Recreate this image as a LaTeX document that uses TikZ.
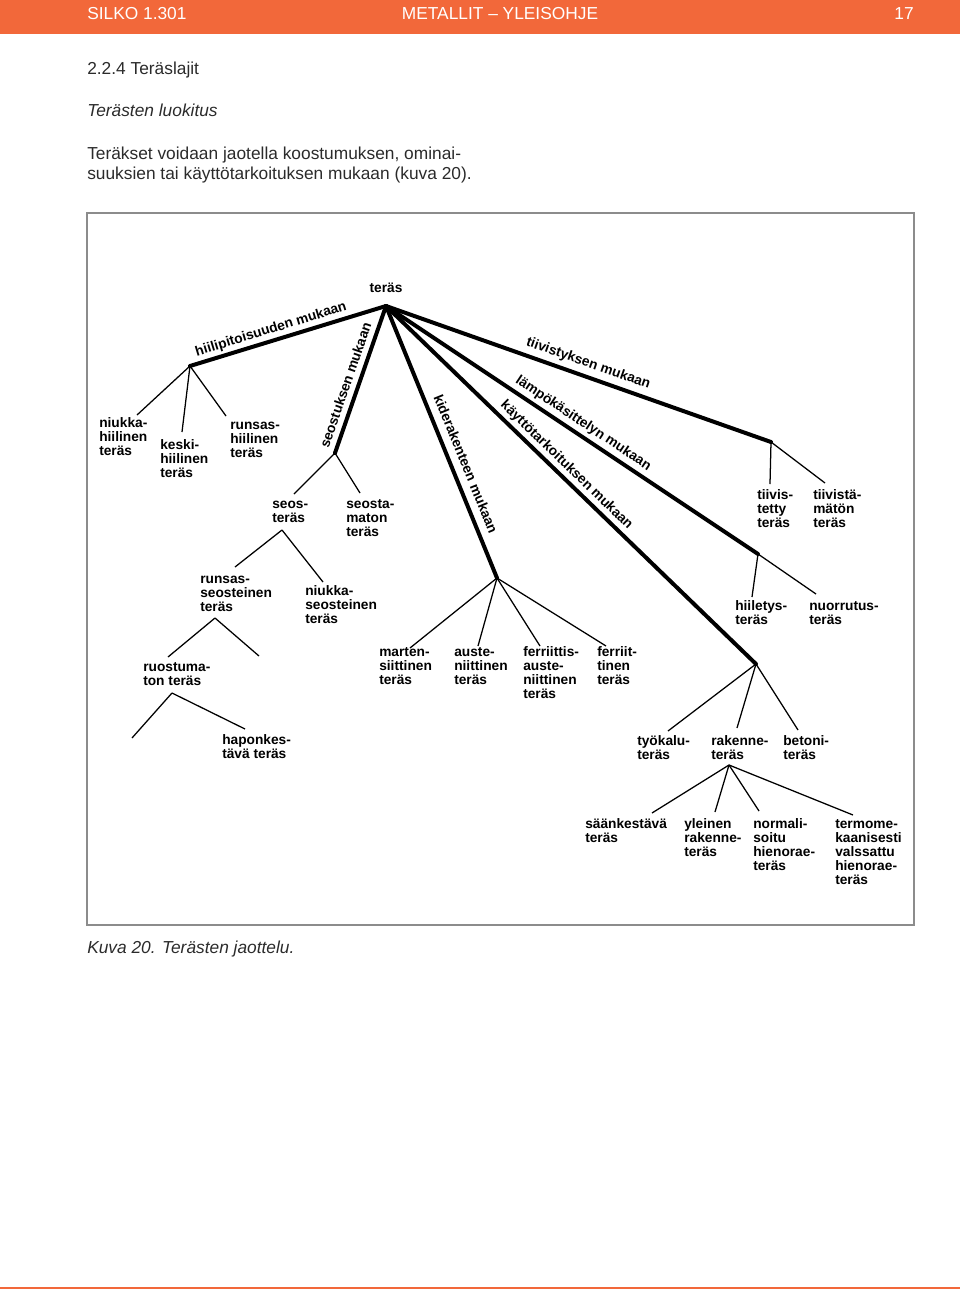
\documentclass[tikz,border=0pt]{standalone}
\usepackage{fontspec}
\setmainfont{Liberation Sans}
\definecolor{hdr}{HTML}{F2683A}
\definecolor{bodytxt}{HTML}{2B2B2B}
\definecolor{framegray}{HTML}{8C8C8C}
\newcommand\lblstrut{\rule{0pt}{0.75em}}
\begin{document}
\begin{tikzpicture}[x=0.75pt,y=-0.75pt,
  thickbr/.style={line width=3pt, line cap=round},
  thinbr/.style={line width=0.95pt},
  lbl/.style={font=\bfseries\fontsize{10.3}{10.5}\selectfont, align=left, anchor=north west, inner sep=0pt},
  brlbl/.style={sloped, above, font=\bfseries\fontsize{10.3}{10.5}\selectfont, text height=0.73em, text depth=0.21em, inner sep=2pt},
  bodyt/.style={font=\fontsize{13}{15}\selectfont, text=bodytxt, anchor=base west, inner sep=0pt},
  hdrt/.style={font=\fontsize{13}{15}\selectfont, text=white, anchor=base, inner sep=0pt},
]
\useasboundingbox (0,0) rectangle (960,1289);
% header
\fill[hdr] (0,0) rectangle (960,34);
\node[hdrt, anchor=base west] (h1) at (87,19) {SILKO 1.301};
\node[hdrt] (h2) at (500,19) {METALLIT – YLEISOHJE};
\node[hdrt, anchor=base east] (h3) at (914,19) {17};
\fill[hdr] (0,1287) rectangle (960,1289);
% body text
\node[bodyt] (t1) at (87,74) {2.2.4 Teräslajit};
\node[bodyt, font=\itshape\fontsize{13}{15}\selectfont] (t2) at (87,116) {Terästen luokitus};
\node[bodyt] (t3) at (87,159) {Teräkset voidaan jaotella koostumuksen, ominai-};
\node[bodyt] (t4) at (87,179) {suuksien tai käyttötarkoituksen mukaan (kuva 20).};
\node[bodyt, font=\itshape\fontsize{13}{15}\selectfont] (t5) at (87,953) {Kuva 20. Terästen jaottelu.};
% frame
\draw[framegray, line width=0.8pt] (87,213) rectangle (914,925);
% tree points
\coordinate (R) at (386,306);
\coordinate (H) at (190,366);
\coordinate (h1e) at (137,415); \coordinate (h2e) at (182,432); \coordinate (h3e) at (226,416);
\coordinate (S) at (335,453);
\coordinate (s1e) at (294,494); \coordinate (s2e) at (360,493);
\coordinate (SO) at (282,530);
\coordinate (so1e) at (235,567); \coordinate (so2e) at (323,582);
\coordinate (RS) at (215,618);
\coordinate (rs1e) at (168,657); \coordinate (rs2e) at (259,656);
\coordinate (RU) at (172,693);
\coordinate (ru1e) at (132,738); \coordinate (ru2e) at (245,729);
\coordinate (K) at (497,578);
\coordinate (k1e) at (410,648); \coordinate (k2e) at (478,646); \coordinate (k3e) at (540,646); \coordinate (k4e) at (606,646);
\coordinate (T) at (771,442);
\coordinate (t1e) at (770,484); \coordinate (t2e) at (825,483);
\coordinate (L) at (758,554);
\coordinate (l1e) at (752,597); \coordinate (l2e) at (816,594);
\coordinate (U) at (756,664);
\coordinate (u1e) at (668,731); \coordinate (u2e) at (737,728); \coordinate (u3e) at (798,730);
\coordinate (RK) at (729,765);
\coordinate (rk1e) at (652,813); \coordinate (rk2e) at (715,812); \coordinate (rk3e) at (759,811); \coordinate (rk4e) at (853,815);
% main branches
\draw[thickbr] (R) -- node[brlbl, pos=0.57] (bh) {hiilipitoisuuden mukaan} (H);
\draw[thickbr] (R) -- node[brlbl, pos=0.566] (bs) {seostuksen mukaan} (S);
\draw[thickbr] (R) -- node[brlbl, pos=0.6, inner sep=3.5pt] (bk) {kiderakenteen mukaan} (K);
\draw[thickbr] (R) -- node[brlbl, pos=0.514, inner sep=3.5pt] (bt) {tiivistyksen mukaan} (T);
\draw[thickbr] (R) -- node[brlbl, pos=0.513, inner sep=2.5pt] (bl) {lämpökäsittelyn mukaan} (L);
\draw[thickbr] (R) -- node[brlbl, pos=0.467] (bu) {käyttötarkoituksen mukaan} (U);
\node[font=\bfseries\fontsize{10.3}{10.5}\selectfont, anchor=base, inner sep=0pt] (root) at (386,292) {teräs};
% thin branches
\draw[thinbr] (H) -- (h1e); \draw[thinbr] (H) -- (h2e); \draw[thinbr] (H) -- (h3e);
\draw[thinbr] (S) -- (s1e); \draw[thinbr] (S) -- (s2e);
\draw[thinbr] (SO) -- (so1e); \draw[thinbr] (SO) -- (so2e);
\draw[thinbr] (RS) -- (rs1e); \draw[thinbr] (RS) -- (rs2e);
\draw[thinbr] (RU) -- (ru1e); \draw[thinbr] (RU) -- (ru2e);
\draw[thinbr] (K) -- (k1e); \draw[thinbr] (K) -- (k2e); \draw[thinbr] (K) -- (k3e); \draw[thinbr] (K) -- (k4e);
\draw[thinbr] (T) -- (t1e); \draw[thinbr] (T) -- (t2e);
\draw[thinbr] (L) -- (l1e); \draw[thinbr] (L) -- (l2e);
\draw[thinbr] (U) -- (u1e); \draw[thinbr] (U) -- (u2e); \draw[thinbr] (U) -- (u3e);
\draw[thinbr] (RK) -- (rk1e); \draw[thinbr] (RK) -- (rk2e); \draw[thinbr] (RK) -- (rk3e); \draw[thinbr] (RK) -- (rk4e);
% labels
\node[lbl] (nh) at (99,417) {\lblstrut niukka-\\hiilinen\\teräs};
\node[lbl] (kh) at (160,439) {\lblstrut keski-\\hiilinen\\teräs};
\node[lbl] (rh) at (230,419) {\lblstrut runsas-\\hiilinen\\teräs};
\node[lbl] (seos) at (272,498) {\lblstrut seos-\\teräs};
\node[lbl] (seosm) at (346,498) {\lblstrut seosta-\\maton\\teräs};
\node[lbl] (rseos) at (200,573) {\lblstrut runsas-\\seosteinen\\teräs};
\node[lbl] (nseos) at (305,585) {\lblstrut niukka-\\seosteinen\\teräs};
\node[lbl] (ruost) at (143,661) {\lblstrut ruostuma-\\ton teräs};
\node[lbl] (hapon) at (222,734) {\lblstrut haponkes-\\tävä teräs};
\node[lbl] (mart) at (379,646) {\lblstrut marten-\\siittinen\\teräs};
\node[lbl] (aust) at (454,646) {\lblstrut auste-\\niittinen\\teräs};
\node[lbl] (fa) at (523,646) {\lblstrut ferriittis-\\auste-\\niittinen\\teräs};
\node[lbl] (ferr) at (597,646) {\lblstrut ferriit-\\tinen\\teräs};
\node[lbl] (hiil) at (735,600) {\lblstrut hiiletys-\\teräs};
\node[lbl] (nuor) at (809,600) {\lblstrut nuorrutus-\\teräs};
\node[lbl] (tv1) at (757,489) {\lblstrut tiivis-\\tetty\\teräs};
\node[lbl] (tv2) at (813,489) {\lblstrut tiivistä-\\mätön\\teräs};
\node[lbl] (tyok) at (637,735) {\lblstrut työkalu-\\teräs};
\node[lbl] (rak) at (711,735) {\lblstrut rakenne-\\teräs};
\node[lbl] (bet) at (783,735) {\lblstrut betoni-\\teräs};
\node[lbl] (saa) at (585,818) {\lblstrut säänkestävä\\teräs};
\node[lbl] (yl) at (684,818) {\lblstrut yleinen\\rakenne-\\teräs};
\node[lbl] (norm) at (753,818) {\lblstrut normali-\\soitu\\hienorae-\\teräs};
\node[lbl] (term) at (835,818) {\lblstrut termome-\\kaanisesti\\valssattu\\hienorae-\\teräs};
\end{tikzpicture}
\end{document}
